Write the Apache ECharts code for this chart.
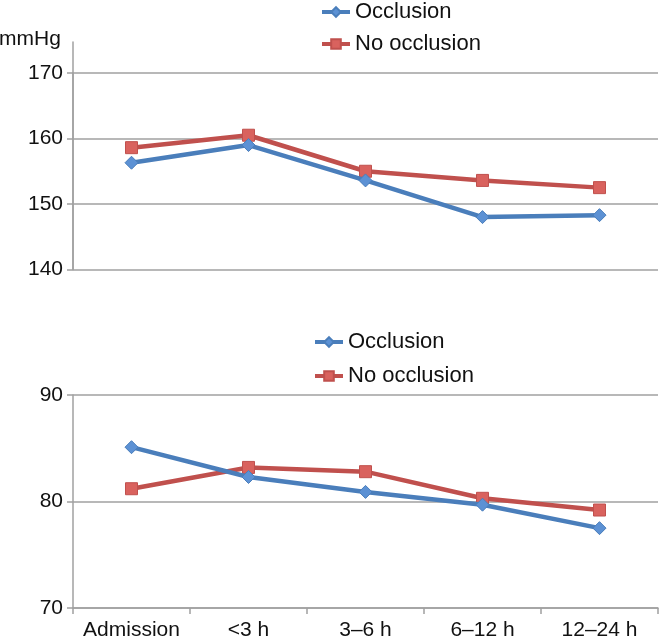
<!DOCTYPE html>
<html>
<head>
<meta charset="utf-8">
<script src="https://cdn.jsdelivr.net/npm/echarts@6/dist/echarts.min.js"></script>
<style>
    html, body { margin: 0; padding: 0; background: #fff; }
    #chart { width: 659px; height: 641px; }
</style>
</head>
<body>
<div id="chart"></div>
<script>

var categories = ['Admission', '<3 h', '3\u20136 h', '6\u201312 h', '12\u201324 h'];

// upper panel (mmHg)
var top_occlusion = [156.3, 159.0, 153.6, 148.0, 148.3];
var top_no_occlusion = [158.6, 160.5, 155.0, 153.6, 152.5];
var top_ticks = [140, 170, 10];

// lower panel
var bottom_occlusion = [85.1, 82.3, 80.9, 79.7, 77.5];
var bottom_no_occlusion = [81.2, 83.2, 82.8, 80.3, 79.2];
var bottom_ticks = [70, 90, 10];

var series_names = ['Occlusion', 'No occlusion'];


var font = 'Liberation Sans, Arial, sans-serif';
var gray = '#a0a0a0';
var blue = '#4a7ebb';
var red = '#c0504d';


function valueAxis(gridIndex, ticks) {

    return {
        type: 'value',
        gridIndex: gridIndex,
        min: ticks[0],
        max: ticks[1],
        interval: ticks[2],
        axisLine: { show: true, lineStyle: { color: gray, width: 1.5 } },
        axisTick: { show: true, length: 6, lineStyle: { color: gray, width: 1.5 } },
        axisLabel: { color: '#111', fontSize: 21, fontFamily: font, margin: 10 },
        splitLine: { show: true, lineStyle: { color: gray, width: 1.5 } }
    };
}


function lineSeries(name, data, xIdx, yIdx, color, fill, symbol, size) {

    return {
        name: name,
        type: 'line',
        xAxisIndex: xIdx,
        yAxisIndex: yIdx,
        data: data,
        symbol: symbol,
        symbolSize: size,
        lineStyle: { color: color, width: 4.5 },
        itemStyle: { color: fill, borderColor: color, borderWidth: 1 },
        z: symbol === 'rect' ? 3 : 4,
        animation: false
    };
}


function legendAt(left, top, gap) {

    return {
        data: series_names,
        orient: 'vertical',
        left: left,
        top: top,
        itemWidth: 28,
        itemHeight: 12,
        itemGap: gap,
        lineStyle: { width: 4 },
        textStyle: { color: '#111', fontSize: 22, fontFamily: font }
    };
}


var chart = echarts.init(document.getElementById('chart'));

var option = {
    backgroundColor: '#fff',
    title: {
        text: 'mmHg',
        left: -6,
        top: 24,
        textStyle: { color: '#111', fontSize: 21, fontWeight: 'normal', fontFamily: font }
    },
    legend: [legendAt(315, -4, 10), legendAt(308, 326, 12)],
    grid: [
        { left: 73, right: 1, top: 73, bottom: 371.5 },
        { left: 73, right: 1, top: 395, bottom: 33 },
        // upper panel axis line runs a little above 170
        { left: 73, right: 1, top: 42, bottom: 371.5 }
    ],
    xAxis: [
        {
            type: 'category', gridIndex: 0, data: categories,
            axisLine: { show: false }, axisTick: { show: false }, axisLabel: { show: false }
        },
        {
            type: 'category', gridIndex: 1, data: categories,
            axisLine: { show: true, lineStyle: { color: gray, width: 1.5 } },
            axisTick: { show: true, length: 6, lineStyle: { color: gray, width: 1.5 } },
            axisLabel: { color: '#111', fontSize: 21, fontFamily: font, margin: 12, interval: 0 }
        },
        {
            type: 'category', gridIndex: 2, data: categories, show: false
        }
    ],
    yAxis: [
        valueAxis(0, top_ticks),
        valueAxis(1, bottom_ticks),
        {
            type: 'value', gridIndex: 2, min: 0, max: 1,
            axisLine: { show: true, lineStyle: { color: gray, width: 1.5 } },
            axisTick: { show: false }, axisLabel: { show: false }, splitLine: { show: false }
        }
    ],
    series: [
        lineSeries(series_names[1], top_no_occlusion, 0, 0, red, '#d9625e', 'rect', 12),
        lineSeries(series_names[0], top_occlusion, 0, 0, blue, '#5c91d4', 'diamond', 13),
        lineSeries(series_names[1], bottom_no_occlusion, 1, 1, red, '#d9625e', 'rect', 12),
        lineSeries(series_names[0], bottom_occlusion, 1, 1, blue, '#5c91d4', 'diamond', 13)
    ]
};

chart.setOption(option);

</script>
</body>
</html>
